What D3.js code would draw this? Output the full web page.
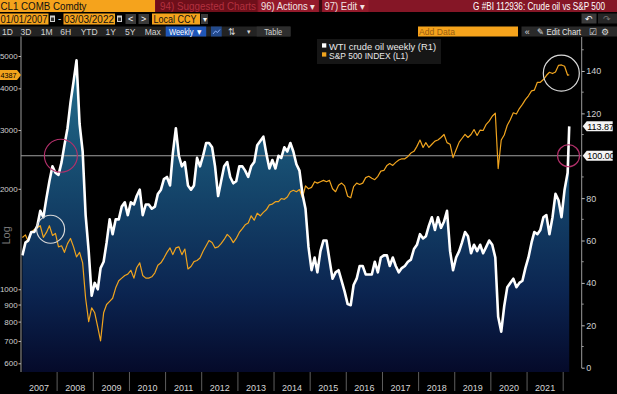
<!DOCTYPE html>
<meta charset="utf-8">
<style>
body { margin: 0; background: #000; overflow: hidden; }
svg { display: block; font-family: "Liberation Sans", Arial, sans-serif; }
</style>
<body>
<script src="https://d3js.org/d3.v7.min.js"></script>
<script>

var width = 617,
    height = 394;

// WTI crude, one value per month (mid-month), Jan 2007 .. Feb 2022
var wtiMonthly = [
  53, 59, 60, 64, 64, 67, 74, 71, 80, 88, 95, 92,
  91, 97, 105, 113, 125, 135, 145, 115, 102, 72, 55, 34,
  40, 37, 47, 50, 59, 70, 63, 70, 70, 76, 78, 72,
  78, 77, 81, 84, 72, 77, 77, 75, 76, 82, 84, 89,
  90, 86, 101, 113, 100, 95, 97, 86, 84, 86, 99, 95,
  100, 106, 106, 104, 95, 81, 88, 95, 97, 90, 87, 88,
  95, 95, 93, 90, 95, 97, 105, 107, 109, 101, 94, 98,
  94, 100, 99, 104, 102, 106, 102, 96, 93, 82, 75, 57,
  46, 52, 45, 55, 60, 60, 51, 42, 45, 46, 41, 36,
  30, 29.5, 39, 42, 48, 48, 44, 44, 44, 50, 45, 52,
  53, 53, 48, 52, 48, 45, 47, 48, 50, 51, 56, 58,
  63, 61, 62, 67, 71, 65, 71, 66, 69, 74, 55, 46,
  52, 55, 59, 64, 62, 54, 58, 55, 58, 54, 57, 60,
  58, 52, 24, 17, 29, 38, 40, 42, 38, 40, 41, 47,
  52, 59, 64, 63, 65, 71, 72, 63, 71, 82, 79, 71,
  84, 92
];

// S&P 500, one value per month (mid-month), Jan 2007 .. Feb 2022
var spxMonthly = [
  1430, 1455, 1390, 1480, 1510, 1530, 1550, 1430, 1480, 1550, 1450, 1470,
  1340, 1350, 1290, 1370, 1420, 1340, 1250, 1290, 1200, 940, 800, 880,
  850, 770, 700, 850, 900, 920, 940, 1010, 1060, 1080, 1100, 1110,
  1140, 1080, 1160, 1200, 1100, 1080, 1080, 1090, 1120, 1180, 1200, 1240,
  1290, 1330, 1270, 1330, 1340, 1270, 1320, 1150, 1170, 1210, 1220, 1240,
  1300, 1350, 1400, 1380, 1330, 1340, 1370, 1410, 1460, 1430, 1380, 1420,
  1480, 1520, 1560, 1580, 1660, 1610, 1690, 1660, 1700, 1730, 1790, 1800,
  1830, 1830, 1870, 1860, 1890, 1960, 1980, 1960, 1990, 1880, 2040, 2000,
  2020, 2100, 2080, 2100, 2120, 2100, 2120, 2000, 1960, 2050, 2080, 2040,
  1900, 1880, 2030, 2080, 2060, 2080, 2160, 2180, 2150, 2130, 2180, 2260,
  2270, 2350, 2380, 2350, 2400, 2440, 2460, 2460, 2500, 2560, 2590, 2680,
  2800, 2660, 2750, 2660, 2720, 2780, 2800, 2850, 2910, 2750, 2720, 2480,
  2620, 2760, 2830, 2910, 2850, 2910, 3010, 2890, 3000, 2990, 3120, 3190,
  3300, 3370, 2300, 2800, 2900, 3100, 3220, 3380, 3350, 3480, 3580, 3700,
  3800, 3930, 3950, 4170, 4170, 4250, 4370, 4470, 4430, 4480, 4690, 4700,
  4660, 4380
];

// last weekly print
var lastDate = "2022-03-03",
    lastWti = 113.87,
    lastSpx = 4387;

var yearLabels = ["2007", "2008", "2009", "2010", "2011", "2012", "2013", "2014",
                  "2015", "2016", "2017", "2018", "2019", "2020", "2021"];
var leftTicks = [600, 700, 800, 900, 1000, 2000, 3000, 4000, 5000];
var rightTicks = [0, 20, 40, 60, 80, 120, 140];
var rightMinor = [10, 30, 50, 70, 90, 110, 130, 150];
var refLevel = 100;

// highlight circles drawn on the chart
var marks = [
  {date: "2008-02-08", value: 100,  axis: "R", r: 16.5, color: "#b2306a"},
  {date: "2007-10-27", value: 1513, axis: "L", r: 14,   color: "#d8d8d8"},
  {date: "2021-12-13", value: 4440, axis: "L", r: 18,   color: "#d8d8d8"},
  {date: "2022-02-24", value: 100,  axis: "R", r: 11,   color: "#b2306a"}
];

var parseDate = d3.utcParse("%Y-%m-%d");

var svg = d3.select("body").append("svg")
    .attr("width", width)
    .attr("height", height);

var plot = {left: 21, right: 581.7, top: 36, bottom: 372};

var x = d3.scaleUtc()
    .domain([parseDate("2007-01-01"), parseDate("2022-07-07")])
    .range([plot.left, plot.right]);
var yL = d3.scaleLog()
    .domain([565, 5740])
    .range([plot.bottom, plot.top]);
var yR = d3.scaleLinear()
    .domain([-2.03, 156.5])
    .range([plot.bottom, plot.top]);

var months = d3.utcMonth.range(parseDate("2007-01-01"), parseDate("2022-03-01"))
    .map(function(m) { return d3.utcDay.offset(m, 14); });

var wti = months.map(function(d, i) { return {date: d, v: wtiMonthly[i]}; });
wti.push({date: parseDate(lastDate), v: lastWti});
var spx = months.map(function(d, i) { return {date: d, v: spxMonthly[i]}; });
spx.push({date: parseDate(lastDate), v: lastSpx});

// gradient under oil
var defs = svg.append("defs");
var grad = defs.append("linearGradient")
    .attr("id", "oilFill")
    .attr("gradientUnits", "userSpaceOnUse")
    .attr("x1", 0).attr("x2", 0)
    .attr("y1", 60).attr("y2", plot.bottom);
grad.append("stop").attr("offset", 0).attr("stop-color", "#23708f");
grad.append("stop").attr("offset", 0.4).attr("stop-color", "#15476c");
grad.append("stop").attr("offset", 0.75).attr("stop-color", "#0b2450");
grad.append("stop").attr("offset", 1).attr("stop-color", "#050a2a");

svg.append("path")
    .datum(wti)
    .attr("fill", "url(#oilFill)")
    .attr("d", d3.area()
        .x(function(d) { return x(d.date); })
        .y0(plot.bottom)
        .y1(function(d) { return yR(d.v); }));

// 100 reference line
svg.append("line")
    .attr("x1", plot.left).attr("x2", plot.right)
    .attr("y1", yR(refLevel)).attr("y2", yR(refLevel))
    .attr("stroke", "#a0a0a0")
    .attr("stroke-width", 1);

svg.append("path")
    .datum(spx)
    .attr("fill", "none")
    .attr("stroke", "#f0a41e")
    .attr("stroke-width", 1.2)
    .attr("stroke-linejoin", "round")
    .attr("d", d3.line()
        .x(function(d) { return x(d.date); })
        .y(function(d) { return yL(d.v); }));

svg.append("path")
    .datum(wti)
    .attr("fill", "none")
    .attr("stroke", "#fff")
    .attr("stroke-width", 2.6)
    .attr("stroke-linejoin", "round")
    .attr("d", d3.line()
        .x(function(d) { return x(d.date); })
        .y(function(d) { return yR(d.v); }));

svg.selectAll(".mark")
    .data(marks)
    .enter().append("circle")
    .attr("class", "mark")
    .attr("cx", function(d) { return x(parseDate(d.date)); })
    .attr("cy", function(d) { return d.axis == "L" ? yL(d.value) : yR(d.value); })
    .attr("r", function(d) { return d.r; })
    .attr("fill", "none")
    .attr("stroke", function(d) { return d.color; })
    .attr("stroke-width", 1.2);

// axes
var axisColor = "#9a9a9a";
svg.append("line")
    .attr("x1", plot.left).attr("x2", plot.left)
    .attr("y1", plot.top).attr("y2", plot.bottom)
    .attr("stroke", axisColor);
svg.append("line")
    .attr("x1", plot.right).attr("x2", plot.right)
    .attr("y1", plot.top + 1).attr("y2", plot.bottom - 4)
    .attr("stroke", axisColor);

var left = svg.append("g")
    .attr("transform", "translate(" + plot.left + ",0)")
    .call(d3.axisLeft(yL).tickValues(leftTicks).tickFormat(d3.format("d")).tickSize(2.5).tickPadding(0.8));
left.select(".domain").remove();
left.selectAll("line").attr("stroke", "#bbb");
left.selectAll("text").attr("fill", "#cfcfcf").attr("font-size", 8)
    .attr("font-family", "Liberation Sans, Arial, sans-serif");

var right = svg.append("g")
    .attr("transform", "translate(" + plot.right + ",0)")
    .call(d3.axisRight(yR).tickValues(rightTicks).tickSize(3).tickPadding(1.5));
right.select(".domain").remove();
right.selectAll("line").attr("stroke", "#bbb");
right.selectAll("text").attr("fill", "#cfcfcf").attr("font-size", 9)
    .attr("font-family", "Liberation Sans, Arial, sans-serif");
svg.append("g").selectAll("line")
    .data(rightMinor)
    .enter().append("line")
    .attr("x1", plot.right).attr("x2", plot.right + 2)
    .attr("y1", function(d) { return yR(d); })
    .attr("y2", function(d) { return yR(d); })
    .attr("stroke", "#999");

// year separators and labels
var yearStarts = yearLabels.map(function(s) { return parseDate(s + "-01-01"); });
yearStarts.push(parseDate("2022-01-01"));
svg.append("g").selectAll("line")
    .data(yearStarts.slice(1))
    .enter().append("line")
    .attr("x1", function(d) { return x(d); })
    .attr("x2", function(d) { return x(d); })
    .attr("y1", plot.bottom).attr("y2", 391)
    .attr("stroke", "#5e5e5e");
svg.append("g").selectAll("text")
    .data(yearLabels)
    .enter().append("text")
    .attr("x", function(d, i) { return (x(yearStarts[i]) + x(yearStarts[i + 1])) / 2; })
    .attr("y", 390.5)
    .attr("text-anchor", "middle")
    .attr("font-size", 9)
    .attr("fill", "#d6d6d6")
    .text(function(d) { return d; });

svg.append("text")
    .attr("transform", "translate(10," + yL(1450) + ") rotate(-90)")
    .attr("text-anchor", "middle")
    .attr("font-size", 11)
    .attr("fill", "#7a7a7a")
    .text("Log");

// value tags
function tagRight(v, label) {
  var y = yR(v), x0 = plot.right + 1, w = 30;
  svg.append("path")
      .attr("d", "M" + x0 + "," + y + "L" + (x0 + 4) + "," + (y - 5) + "H" + (x0 + w) +
            "V" + (y + 5) + "H" + (x0 + 4) + "Z")
      .attr("fill", "#f4f4f4");
  svg.append("text")
      .attr("x", x0 + 4.5).attr("y", y + 3.3)
      .attr("font-size", 9).attr("fill", "#000")
      .text(label);
}
tagRight(lastWti, d3.format(".2f")(lastWti));
tagRight(refLevel, d3.format(".2f")(refLevel));

var ty = yL(lastSpx);
svg.append("path")
    .attr("d", "M" + plot.left + "," + ty + "L" + (plot.left - 4) + "," + (ty - 5) + "H0V" + (ty + 5) +
          "H" + (plot.left - 4) + "Z")
    .attr("fill", "#f1a21c");
svg.append("text")
    .attr("x", 0.5).attr("y", ty + 3)
    .attr("font-size", 8).attr("fill", "#000")
    .attr("textLength", 16).attr("lengthAdjust", "spacingAndGlyphs")
    .text(lastSpx);

// legend
var lg = svg.append("g");
lg.append("rect").attr("x", 317).attr("y", 39).attr("width", 124).attr("height", 25).attr("fill", "#161616");
lg.append("rect").attr("x", 322).attr("y", 43.3).attr("width", 4.3).attr("height", 4.3).attr("fill", "#fff");
lg.append("rect").attr("x", 322).attr("y", 52.3).attr("width", 4.3).attr("height", 4.3).attr("fill", "#f0a41e");
lg.append("text").attr("x", 329).attr("y", 49.8).attr("font-size", 9).attr("fill", "#e8e8e8")
    .attr("textLength", 107).attr("lengthAdjust", "spacingAndGlyphs")
    .text("WTI crude oil weekly (R1)");
lg.append("text").attr("x", 329).attr("y", 58.6).attr("font-size", 9).attr("fill", "#e8e8e8")
    .attr("textLength", 79).attr("lengthAdjust", "spacingAndGlyphs")
    .text("S&P 500 INDEX (L1)");

// terminal toolbar
var ui = svg.append("g").attr("font-family", "Liberation Sans Narrow, Liberation Sans, Arial, sans-serif");
function box(x0, y0, w, h, fill) {
  ui.append("rect").attr("x", x0).attr("y", y0).attr("width", w).attr("height", h).attr("fill", fill);
}
function txt(x0, y0, s, size, fill, len, anchor) {
  var t = ui.append("text").attr("x", x0).attr("y", y0)
      .attr("font-size", size).attr("fill", fill).text(s);
  if (len) t.attr("textLength", len).attr("lengthAdjust", "spacingAndGlyphs");
  if (anchor) t.attr("text-anchor", anchor);
  return t;
}

// row 1
box(0, 0, 617, 12, "#851626");
box(0, 0, 155, 12, "#f5a31c");
txt(0.5, 10, "CL1 COMB Comdty", 11, "#111", 86);
box(155.5, 0, 102, 12, "#6e0f1a");
txt(160, 10, "94) Suggested Charts", 10.5, "#b3303f", 96);
box(258.5, 0, 60, 12, "#951a2b");
txt(261, 9.8, "96) Actions \u25BE", 10, "#f2e4e4", 54);
box(319, 0, 3, 12, "#3a0a10");
box(322.5, 0, 46, 12, "#951a2b");
txt(324.5, 9.8, "97) Edit \u25BE", 10, "#f2e4e4", 40);

// title squeezed by a transform so its box stays within the page
var title = ui.append("text")
    .attr("font-size", 10.5).attr("fill", "#fff")
    .attr("text-anchor", "end")
    .text("G #BI 112936: Crude oil vs S&P 500");
var tw = title.node().getComputedTextLength();
title.attr("transform", "translate(605,10) scale(" + Math.min(1, 132 / tw) + ",1)");

// row 2
box(0, 13.5, 48.5, 11, "#f5a31c");
txt(0.5, 22.5, "01/01/2007", 10.5, "#111", 47);
box(50, 15.5, 5, 6.5, "#cfcfcf");
box(51, 17.5, 3, 3.5, "#333");
txt(58, 22, "-", 10, "#ddd");
box(63.5, 13.5, 51.5, 11, "#f5a31c");
txt(64, 22.5, "03/03/2022", 10.5, "#111", 50);
box(117, 15.5, 5, 6.5, "#cfcfcf");
box(118, 17.5, 3, 3.5, "#333");
box(125.5, 14, 10.5, 10, "#3a3a3a");
txt(130.7, 22, "<", 9, "#fff", null, "middle");
box(138.5, 14, 10.5, 10, "#3a3a3a");
txt(143.7, 22, ">", 9, "#fff", null, "middle");
box(152, 13.5, 48, 11, "#f5a31c");
txt(153.5, 22.5, "Local CCY", 10.5, "#111", 43);
box(201, 14, 7, 10, "#3a3a3a");
txt(204.5, 21.5, "\u25BE", 8, "#fff", null, "middle");
box(581.5, 13.5, 15, 10, "#3a3a3a");
txt(589, 21.8, "\u21B6", 9, "#fff", null, "middle");
box(598, 13.5, 19, 10, "#262626");
txt(607, 21.8, "\u21B7", 9, "#777", null, "middle");

// row 3
box(0, 26.5, 291, 10, "#232323");
var periods = [["1D", 7.5], ["3D", 26], ["1M", 46.7], ["6H", 65.8], ["YTD", 89.2],
               ["1Y", 110.8], ["5Y", 130.2], ["Max", 152.8]];
periods.forEach(function(p) { txt(p[1], 34.5, p[0], 8.5, "#d4d4d4", null, "middle"); });
box(165.7, 26.5, 40.5, 10, "#1f56b8");
txt(186, 34.5, "Weekly \u25BC", 8.5, "#fff", 34, "middle");
box(211, 26.5, 10.7, 10, "#234a8c");
ui.append("polyline").attr("points", "213,34 215.5,31 217.5,32.5 220,29.5")
    .attr("fill", "none").attr("stroke", "#8fb3ff").attr("stroke-width", 0.9);
txt(231.7, 34.5, "\u21C5", 8.5, "#d4d4d4", null, "middle");
txt(249, 34, "\u25BE", 7, "#d4d4d4", null, "middle");
box(256.7, 26.5, 33.3, 10, "#2e2e2e");
txt(273.3, 34.5, "Table", 8.5, "#d4d4d4", 18, "middle");
box(418, 26.5, 100, 10, "#f5a31c");
txt(419, 34.6, "Add Data", 9, "#9a5e10", 36);
box(521.5, 26.5, 95.5, 10, "#2a2a2a");
txt(527.3, 34.5, "\u00AB", 9, "#ddd", null, "middle");
txt(537, 34.5, "\u270E Edit Chart", 8.5, "#e6e6e6", 44);
txt(593, 34.5, "\u2611", 8.5, "#ddd", null, "middle");
txt(605, 34.8, "\u2699", 9, "#ddd", null, "middle");

</script>
